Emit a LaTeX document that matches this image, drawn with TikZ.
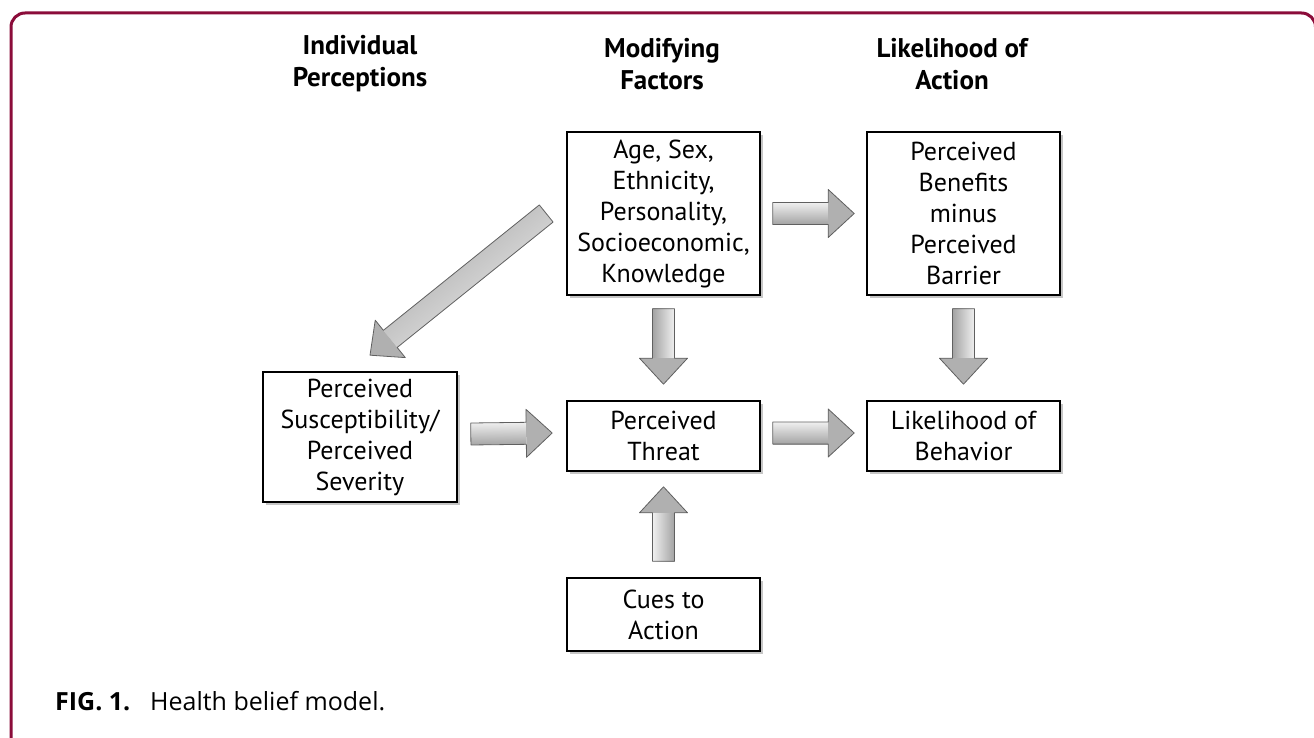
\documentclass[tikz,border=0pt]{standalone}
\usepackage{fontspec}
\setmainfont{PT Sans}
\newfontfamily\capfont{Open Sans}
\usetikzlibrary{calc,shadows}
\definecolor{framecol}{RGB}{139,12,58}
\tikzset{
  box/.style={draw=black, line width=1.6pt, fill=white, align=center, inner sep=0pt,
    font=\fontsize{26}{31}\selectfont, minimum width=193pt,
    drop shadow={shadow xshift=3pt, shadow yshift=-3pt, fill=gray!45, opacity=1}},
  hdr/.style={align=center, inner sep=0pt, font=\bfseries\fontsize{27}{32}\selectfont},
  captxt/.style={anchor=base west, inner sep=0pt, font=\capfont\fontsize{25}{28}\selectfont},
  arrowline/.style={draw=gray!75!black, line width=0.8pt, line join=round}
}
\newcommand\blockarrow[2]{%
  \pgfpointdiff{\pgfpointanchor{#1}{center}}{\pgfpointanchor{#2}{center}}%
  \pgfgetlastxy{\bax}{\bay}%
  \pgfmathsetmacro\baang{atan2(\bay,\bax)}%
  \pgfmathsetmacro\balen{veclen(\bax,\bay)}%
  \pgfmathsetmacro\bash{\balen-26}%
  \begin{scope}[shift={(#1)}, rotate=\baang]
    \shade[left color=gray!12, right color=gray!72, shading angle=\baang] (0,-11) rectangle (\bash,11);
    \fill[gray!62] (\bash,-24) -- (\balen,0) -- (\bash,24) -- cycle;
    \draw[arrowline] (0,-11) -- (\bash,-11) -- (\bash,-24) -- (\balen,0) -- (\bash,24) -- (\bash,11) -- (0,11) -- cycle;
  \end{scope}}
\begin{document}
\begin{tikzpicture}[x=1pt,y=-1pt]
\useasboundingbox (0,0) rectangle (1314,738);
\draw[framecol, line width=3pt, rounded corners=14pt] (11,760) -- (11,13) -- (1315.5,13) -- (1315.5,80);

\node[hdr] (h1) at (360,64) {Individual\\Perceptions};
\node[hdr] (h2) at (662,64) {Modifying\\Factors};
\node[hdr] (h3) at (952,64) {Likelihood of\\Action};

\node[box, minimum height=163pt] (age) at (663.5,213.5) {Age, Sex,\\Ethnicity,\\Personality,\\Socioeconomic,\\Knowledge};
\node[box, minimum height=163pt] (ben) at (963.5,213.5) {Perceived\\Benefits\\minus\\Perceived\\Barrier};
\node[box, minimum width=194pt, minimum height=130pt] (sus) at (360,437) {Perceived\\Susceptibility/\\Perceived\\Severity};
\node[box, minimum height=70pt] (thr) at (663.5,436) {Perceived\\Threat};
\node[box, minimum height=70pt] (beh) at (963.5,436) {Likelihood of\\Behavior};
\node[box, minimum height=73pt] (cue) at (663.5,614.5) {Cues to\\Action};

\coordinate (a1) at ($(age.east)+(12,0)$);
\coordinate (a2) at ($(ben.west)+(-12,0)$);
\coordinate (b1) at ($(age.south)+(0,13)$);
\coordinate (b2) at ($(thr.north)+(0,-16)$);
\coordinate (c1) at ($(ben.south)+(0,13)$);
\coordinate (c2) at ($(beh.north)+(0,-16)$);
\coordinate (d1) at ($(sus.east)+(13,-3)$);
\coordinate (d2) at ($(thr.west)+(-14,-3)$);
\coordinate (e1) at ($(thr.east)+(12,-3)$);
\coordinate (e2) at ($(beh.west)+(-12,-3)$);
\coordinate (f1) at ($(cue.north)+(0,-16)$);
\coordinate (f2) at ($(thr.south)+(0,15)$);
\coordinate (g1) at ($(age.west)+(-20,0)$);
\coordinate (g2) at ($(sus.north)+(10,-16)$);

\blockarrow{a1}{a2}
\blockarrow{b1}{b2}
\blockarrow{c1}{c2}
\blockarrow{d1}{d2}
\blockarrow{e1}{e2}
\blockarrow{f1}{f2}
\blockarrow{g1}{g2}

\node[captxt, font=\capfont\bfseries\fontsize{25}{28}\selectfont] (cap1) at (55,710) {FIG. 1.};
\node[captxt] (cap2) at (150,710) {Health belief model.};
\end{tikzpicture}
\end{document}
